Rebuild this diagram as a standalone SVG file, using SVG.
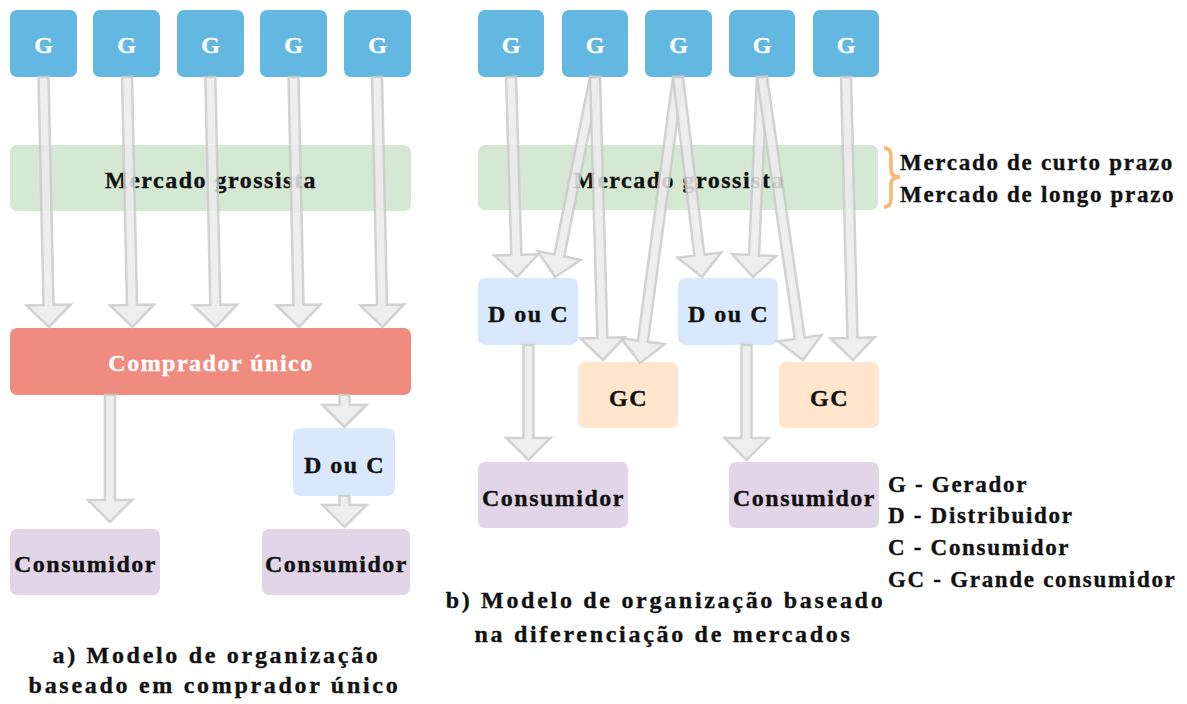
<svg xmlns="http://www.w3.org/2000/svg" width="1187" height="704" viewBox="0 0 1187 704">
<style>
text{font-family:"Liberation Serif","Times New Roman",serif;font-weight:bold;stroke-width:0.35px;}
.n{font-size:24px;letter-spacing:1.5px;text-anchor:middle;fill:#111;stroke:#111;}
.w{fill:#fff;stroke:#fff;}
.g{font-size:24px;text-anchor:middle;fill:#fff;stroke:#fff;}
.cap{font-size:24px;letter-spacing:2.7px;text-anchor:middle;fill:#111;stroke:#111;}
.lg{font-size:23px;letter-spacing:1.7px;fill:#111;stroke:#111;}
.gen{fill:#62b8e0;}
.whs{fill:#d5e8d4;}
.cu{fill:#f08c7f;}
.dc{fill:#dae8fc;}
.gc{fill:#ffe6cc;}
.con{fill:#e1d5e7;}
.arr path{fill:#ececec;stroke:#cbcbcb;stroke-width:2.5;stroke-linejoin:miter;opacity:0.85;}
</style>

<!-- Part a nodes -->
<g id="a-G1"><rect class="gen" x="10" y="10" width="67" height="67" rx="7"/><text class="g" x="43.5" y="53">G</text></g>
<g id="a-G2"><rect class="gen" x="93" y="10" width="67" height="67" rx="7"/><text class="g" x="126.5" y="53">G</text></g>
<g id="a-G3"><rect class="gen" x="177" y="10" width="67" height="67" rx="7"/><text class="g" x="210.5" y="53">G</text></g>
<g id="a-G4"><rect class="gen" x="260" y="10" width="67" height="67" rx="7"/><text class="g" x="293.5" y="53">G</text></g>
<g id="a-G5"><rect class="gen" x="344" y="10" width="67" height="67" rx="7"/><text class="g" x="377.5" y="53">G</text></g>
<g id="a-mercado"><rect class="whs" x="10" y="145" width="401" height="66" rx="7"/><text class="n" x="211" y="188">Mercado grossista</text></g>
<g id="a-comprador"><rect class="cu" x="10" y="328" width="401" height="67" rx="7"/><text class="n w" x="211" y="371">Comprador único</text></g>
<g id="a-douc"><rect class="dc" x="293" y="428" width="102" height="68" rx="7"/><text class="n" x="344.5" y="473">D ou C</text></g>
<g id="a-cons1"><rect class="con" x="10" y="529" width="150" height="66" rx="7"/><text class="n" x="85.5" y="572">Consumidor</text></g>
<g id="a-cons2"><rect class="con" x="262" y="529" width="148" height="66" rx="7"/><text class="n" x="336.5" y="572">Consumidor</text></g>

<!-- Part b nodes -->
<g id="b-G1"><rect class="gen" x="478" y="10" width="66" height="67" rx="7"/><text class="g" x="511" y="53">G</text></g>
<g id="b-G2"><rect class="gen" x="562" y="10" width="66" height="67" rx="7"/><text class="g" x="595" y="53">G</text></g>
<g id="b-G3"><rect class="gen" x="645" y="10" width="67" height="67" rx="7"/><text class="g" x="678.5" y="53">G</text></g>
<g id="b-G4"><rect class="gen" x="729" y="10" width="66" height="67" rx="7"/><text class="g" x="762" y="53">G</text></g>
<g id="b-G5"><rect class="gen" x="813" y="10" width="66" height="67" rx="7"/><text class="g" x="846" y="53">G</text></g>
<g id="b-mercado"><rect class="whs" x="478" y="145" width="400" height="65" rx="7"/><text class="n" x="679" y="188">Mercado grossista</text></g>
<g id="b-douc1"><rect class="dc" x="478" y="278" width="100" height="67" rx="7"/><text class="n" x="528.5" y="322">D ou C</text></g>
<g id="b-douc2"><rect class="dc" x="678" y="278" width="100" height="67" rx="7"/><text class="n" x="728.5" y="322">D ou C</text></g>
<g id="b-gc1"><rect class="gc" x="578" y="362" width="100" height="66" rx="7"/><text class="n" x="628.5" y="406">GC</text></g>
<g id="b-gc2"><rect class="gc" x="779" y="362" width="100" height="66" rx="7"/><text class="n" x="829.5" y="406">GC</text></g>
<g id="b-cons1"><rect class="con" x="478" y="462" width="150" height="66" rx="7"/><text class="n" x="553.5" y="506">Consumidor</text></g>
<g id="b-cons2"><rect class="con" x="729" y="462" width="150" height="66" rx="7"/><text class="n" x="804.5" y="506">Consumidor</text></g>

<!-- connectors -->
<g id="connectors" class="arr">
<path transform="translate(43.5,77) rotate(88.74)" d="M0,-5 H228 V-22 L250,0 L228,22 V5 H0 Z"/>
<path transform="translate(127,77) rotate(88.74)" d="M0,-5 H228 V-22 L250,0 L228,22 V5 H0 Z"/>
<path transform="translate(210.3,77) rotate(88.74)" d="M0,-5 H228 V-22 L250,0 L228,22 V5 H0 Z"/>
<path transform="translate(293.5,77) rotate(88.74)" d="M0,-5 H228 V-22 L250,0 L228,22 V5 H0 Z"/>
<path transform="translate(377,77) rotate(88.74)" d="M0,-5 H228 V-22 L250,0 L228,22 V5 H0 Z"/>
<path transform="translate(110,395) rotate(90)" d="M0,-5 H105 V-22 L127,0 L105,22 V5 H0 Z"/>
<path transform="translate(344.5,395) rotate(90)" d="M0,-5 H10 V-22 L32,0 L10,22 V5 H0 Z"/>
<path transform="translate(344.5,496) rotate(90)" d="M0,-5 H9 V-22 L31,0 L9,22 V5 H0 Z"/>

<path transform="translate(511,77) rotate(88.28)" d="M0,-5 H178 V-22 L200,0 L178,22 V5 H0 Z"/>
<path transform="translate(595,77) rotate(101.31)" d="M0,-5 H182 V-22 L204,0 L182,22 V5 H0 Z"/>
<path transform="translate(595,77) rotate(88.38)" d="M0,-5 H261 V-22 L283,0 L261,22 V5 H0 Z"/>
<path transform="translate(678,77) rotate(97.57)" d="M0,-5 H266.5 V-22 L288.5,0 L266.5,22 V5 H0 Z"/>
<path transform="translate(678,77) rotate(83.16)" d="M0,-5 H179.4 V-22 L201.4,0 L179.4,22 V5 H0 Z"/>
<path transform="translate(762,77) rotate(92.58)" d="M0,-5 H178.2 V-22 L200.2,0 L178.2,22 V5 H0 Z"/>
<path transform="translate(762,77) rotate(81.76)" d="M0,-5 H264 V-22 L286,0 L264,22 V5 H0 Z"/>
<path transform="translate(846,77) rotate(88.58)" d="M0,-5 H261 V-22 L283,0 L261,22 V5 H0 Z"/>
<path transform="translate(528.5,345) rotate(90)" d="M0,-5 H93 V-22 L115,0 L93,22 V5 H0 Z"/>
<path transform="translate(746.5,345) rotate(90)" d="M0,-5 H93 V-22 L115,0 L93,22 V5 H0 Z"/>
</g>

<!-- brace and labels -->
<g id="brace">
<path d="M884,148 Q891,148 891,156 V170 Q891,177 900,177 Q891,177 891,184 V199 Q891,207 884,207" fill="none" stroke="#ffb570" stroke-width="3.5"/>
<text class="lg" x="900" y="170">Mercado de curto prazo</text>
<text class="lg" x="900" y="202">Mercado de longo prazo</text>
</g>

<g id="legend">
<text class="lg" x="888" y="492">G - Gerador</text>
<text class="lg" x="888" y="523">D - Distribuidor</text>
<text class="lg" x="888" y="555">C - Consumidor</text>
<text class="lg" x="888" y="587">GC - Grande consumidor</text>
</g>

<g id="captions">
<text class="cap" x="216.5" y="663">a) Modelo de organização</text>
<text class="cap" x="214.5" y="693">baseado em comprador único</text>
<text class="cap" x="665.5" y="608">b) Modelo de organização baseado</text>
<text class="cap" x="663.5" y="642">na diferenciação de mercados</text>
</g>
</svg>
